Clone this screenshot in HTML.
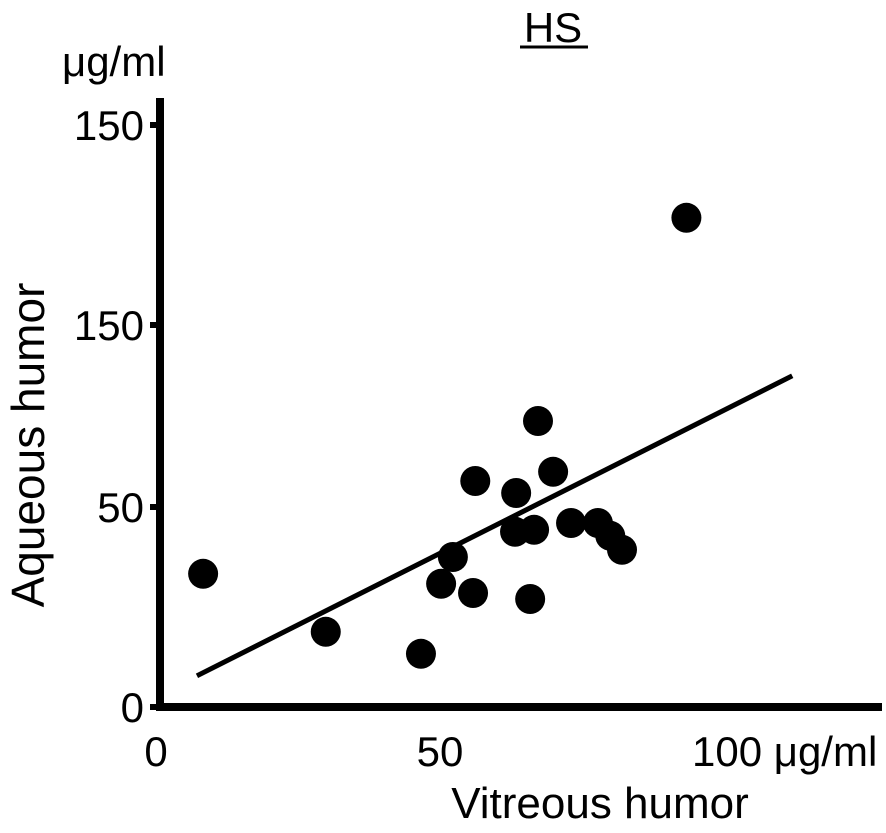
<!DOCTYPE html>
<html><head><meta charset="utf-8"><style>
body{margin:0;background:#fff;}
svg text{font-family:"Liberation Sans",sans-serif;fill:#000;}
</style></head><body>
<svg width="886" height="828">
</svg>
<script>
const xVals=[7.7,29.6,46.6,50.2,52.3,55.9,56.3,63.6,63.4,66.8,66.1,67.5,70.2,73.4,78.2,80.4,82.5,94.0];
const yVals=[33.3,18.8,13.3,30.8,37.5,28.5,56.5,53.5,43.8,44.3,27.0,71.5,58.8,46.0,46.0,42.8,39.3,122.3];
const yTickVals=[0,50,95.5,145.5];
const yTickLabels=["0","50","150","150"];
const fitLine=[[6.6,7.8],[112.9,82.8]];
const X=v=>160+v*5.6, Y=v=>707-v*4;
const NS="http://www.w3.org/2000/svg";
const svg=document.querySelector('svg');
function mk(t,a,p){const e=document.createElementNS(NS,t);for(const k in a)e.setAttribute(k,a[k]);(p||svg).appendChild(e);return e;}
let e;
e=mk('line',{x1:160,y1:98,x2:160,y2:711,stroke:'#000','stroke-width':8});


e=mk('line',{x1:156,y1:707,x2:882,y2:707,stroke:'#000','stroke-width':8});


yTickVals.forEach((v,i)=>{
 e=mk('line',{x1:150,y1:Y(v),x2:160,y2:Y(v),stroke:'#000','stroke-width':6});
 
 
 e=mk('text',{x:144,y:Y(v)+15,'font-size':42,'text-anchor':'end'});e.textContent=yTickLabels[i];
 
 
});
[[0,"0",-4],[50,"50",0]].forEach(t=>{
 e=mk('text',{x:X(t[0])+t[2],y:766,'font-size':42,'text-anchor':'middle'});e.textContent=t[1];
 
 
});
e=mk('text',{x:X(100)-28,y:766,'font-size':42});e.textContent="100 μg/ml";


e=mk('line',{x1:X(fitLine[0][0]),y1:Y(fitLine[0][1]),x2:X(fitLine[1][0]),y2:Y(fitLine[1][1]),stroke:'#000','stroke-width':5});


xVals.forEach((x,i)=>{
 e=mk('circle',{cx:X(x),cy:Y(yVals[i]),r:15,fill:'#000'});
 
 
});
e=mk('text',{x:553,y:42,'font-size':42,'text-anchor':'middle'});e.textContent="HS";


e=mk('line',{x1:520,y1:47,x2:588,y2:47,stroke:'#000','stroke-width':3});


e=mk('text',{x:62,y:76,'font-size':42});e.textContent="μg/ml";


e=mk('text',{x:600,y:818,'font-size':44,'text-anchor':'middle'});e.textContent="Vitreous humor";


e=mk('text',{x:0,y:0,'font-size':46,'text-anchor':'middle',transform:'translate(44,445) rotate(-90)'});e.textContent="Aqueous humor";


</script>
</body></html>
